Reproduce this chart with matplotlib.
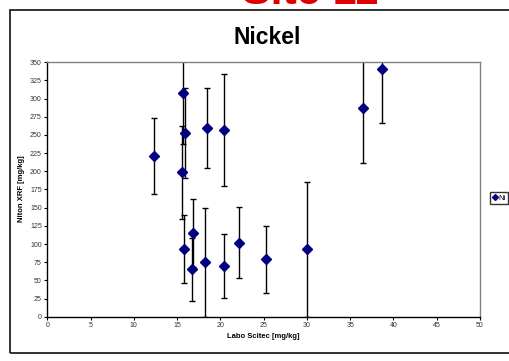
import numpy as np
import matplotlib
matplotlib.use('agg')
import matplotlib.pyplot as plt
from matplotlib.patches import Rectangle
from matplotlib.lines import Line2D

plt.rcParams['font.family'] = ['Liberation Sans', 'DejaVu Sans']

# values
labo = [12.3, 15.7, 15.95, 15.6, 15.8, 16.8, 16.75, 18.2, 18.4, 20.4, 20.4, 22.2, 25.3, 30.0, 36.45, 38.7]
niton = [221, 308, 253, 199, 93, 115, 65, 75, 260, 257, 70, 102, 79, 93, 287, 341]
err = [52, 70, 62, 64, 47, 47, 43, 75, 55, 77, 44, 49, 46, 93, 76, 75]
xticks = np.arange(0, 51, 5)
yticks = np.arange(0, 351, 25)

W, H = 510, 361
fig = plt.figure(figsize=(W / 100, H / 100), dpi=100)

def fx(px):
    return px / W

def fy(py):
    return 1 - py / H

# slide title, cut off at the top in the reference too
fig.text(fx(310), fy(4), 'Site 11', color='#e00000', fontsize=31, fontweight='bold',
         ha='center', va='baseline')

# chart box
fig.patches.append(Rectangle((fx(10), fy(353)), fx(520) - fx(10), fy(10) - fy(353),
                             transform=fig.transFigure, fill=False,
                             edgecolor='#222222', linewidth=1.3, zorder=-1))

ax = fig.add_axes([fx(47.3), fy(316.7), fx(480) - fx(47.3), fy(62.3) - fy(316.7)])
ax.patch.set_alpha(0)
ax.errorbar(labo, niton, yerr=err, fmt='D', color='#000080', markersize=4.6,
            ecolor='black', elinewidth=1, capsize=2, capthick=1, label='Ni')
ax.set_xlim(0, 50)
ax.set_ylim(0, 350)
ax.set_xticks(xticks)
ax.set_yticks(yticks)
ax.tick_params(labelsize=5, length=2, width=0.8, colors='black', labelcolor='#333333', pad=2)
for s in ['top', 'right']:
    ax.spines[s].set_color('#808080')
    ax.spines[s].set_linewidth(1)
for s in ['left', 'bottom']:
    ax.spines[s].set_color('black')
    ax.spines[s].set_linewidth(1)

fig.text(fx(267), fy(38), 'Nickel', fontsize=16.5, fontweight='bold', ha='center', va='center')
fig.text(fx(263), fy(336), 'Labo Scitec [mg/kg]', fontsize=5.5, fontweight='bold',
         ha='center', va='center')
fig.text(fx(22), fy(189), 'Niton XRF [mg/kg]', fontsize=5.5, fontweight='bold',
         rotation=90, ha='center', va='center')

handle = Line2D([], [], marker='D', color='#000080', linestyle='none', markersize=3)
fig.legend([handle], ['Ni'], loc='center', bbox_to_anchor=(fx(499), fy(198)),
           fontsize=5.5, frameon=True, fancybox=False, edgecolor='black',
           handlelength=0.6, handletextpad=0.2, borderpad=0.3, borderaxespad=0)

fig.savefig('out.png', dpi=100)
